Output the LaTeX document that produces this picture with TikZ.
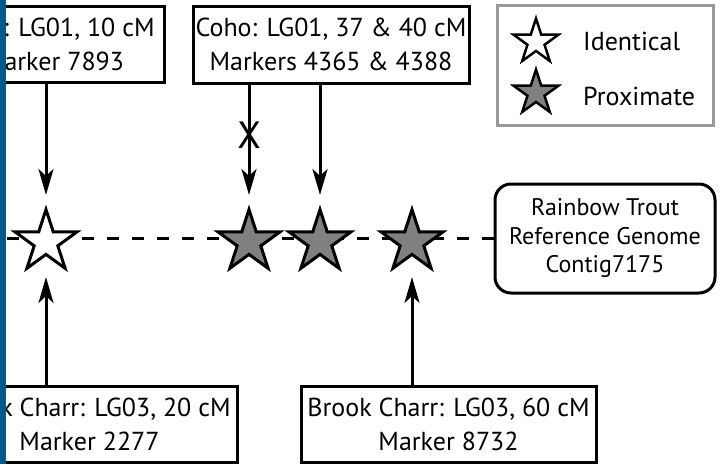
\documentclass[tikz,border=0pt]{standalone}
\usepackage{fontspec}
\setmainfont{PT Sans}
\usetikzlibrary{shapes,arrows.meta,positioning,calc}
\definecolor{stripblue}{RGB}{0,88,140}
\definecolor{stargray}{RGB}{128,128,128}

\begin{document}
\begin{tikzpicture}[
    x=1pt, y=-1pt,
    box/.style={rectangle, draw, line width=3pt, minimum width=295pt, minimum height=76pt,
                inner sep=0pt, align=center, font=\fontsize{26}{34}\selectfont},
    genome/.style={rectangle, draw, line width=3pt, rounded corners=16pt, minimum width=220pt,
                   minimum height=109pt, inner sep=0pt, align=center, font=\fontsize{24}{28.5}\selectfont},
    legend/.style={rectangle, draw=black!40, line width=3pt, minimum width=216pt, minimum height=120pt},
    starmark/.style={star, star points=5, star point ratio=2.618, draw, line width=3pt,
                     inner sep=0pt, minimum size=65pt},
    identical/.style={starmark, fill=white},
    proximate/.style={starmark, fill=stargray},
    keytext/.style={anchor=base west, inner sep=0pt, font=\fontsize{26}{30}\selectfont},
    arrow/.style={-{Stealth[length=26pt, width=15pt, inset=7pt]}, line width=3pt}
]
\useasboundingbox (0,0) rectangle (721,464);
\clip (0,0) rectangle (721,464);
\fill[white] (0,0) rectangle (721,464);

\node[box, minimum width=220pt] (lg01a) at (54,44) {\hspace*{50pt}: LG01, 10 cM\\Marker 7893};
\node[box, minimum width=276pt, minimum height=77pt] (lg01b) at (331,44.5)
    {Coho: LG01, 37 \& 40 cM\\Markers 4365 \& 4388};
\node[box] (lg03a) at (89.5,424.5) {Brook Charr: LG03, 20 cM\\Marker 2277};
\node[box] (lg03b) at (448.5,424.5) {Brook Charr: LG03, 60 cM\\Marker 8732};
\node[genome] (genome) at (605,238.5) {Rainbow Trout\\Reference Genome\\Contig7175};

\coordinate (contigend) at (0,238.5);
\draw[line width=3pt, dash pattern=on 12pt off 13pt] (genome.west) -- (contigend);

\node[identical] (s1) at (46,242) {};
\node[proximate] (s2) at (249,242) {};
\node[proximate] (s3) at (320,242) {};
\node[proximate] (s4) at (412,242) {};

\draw[arrow] (lg01a.south -| s1) -- ($(s1.center)+(0,-47)$);
\draw[arrow] (lg01b.south -| s2) -- ($(s2.center)+(0,-47)$)
    node[pos=0.46, inner sep=0pt, font=\fontsize{38}{38}\selectfont] (xmark) {X};
\draw[arrow] (lg01b.south -| s3) -- ($(s3.center)+(0,-47)$);
\draw[arrow] (lg03a.north -| s1) -- ($(s1.center)+(0,35)$);
\draw[arrow] (lg03b.north -| s4) -- ($(s4.center)+(0,35)$);

\node[legend] (legend) at (605,65) {};
\node[identical, minimum size=47pt, line width=2.5pt] (keyid) at (536,42) {};
\node[proximate, minimum size=47pt, line width=2.5pt] (keypx) at (536,93) {};
\node[keytext] (idtext) at (583,50) {Identical};
\node[keytext] (pxtext) at (583,105) {Proximate};

\fill[stripblue] (0,0) rectangle (5.5,464);
\end{tikzpicture}
\end{document}
